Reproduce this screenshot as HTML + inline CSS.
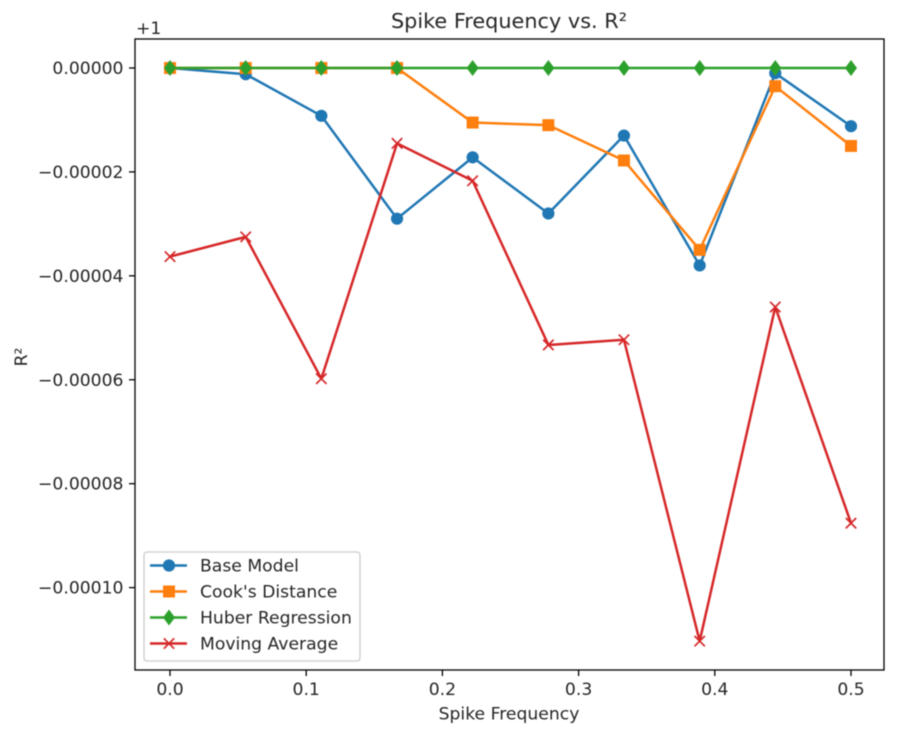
<!DOCTYPE html>
<html>
<head>
<meta charset="utf-8">
<title>Spike Frequency vs. R²</title>
<style>
html,body{margin:0;padding:0;background:#fff;}
#wrap{width:907px;height:741px;overflow:hidden;position:relative;}
svg{display:block;filter:blur(0.5px);}
text{font-family:"DejaVu Sans","Liberation Sans",sans-serif;fill:#262626;}
</style>
</head>
<body>
<div id="wrap">
<svg id="chart" width="907" height="741" viewBox="0 0 907 741" xmlns="http://www.w3.org/2000/svg"></svg>
</div>
<script>
const spikeFrequency = [0, 0.0556, 0.1111, 0.1667, 0.2222, 0.2778, 0.3333, 0.3889, 0.4444, 0.5];
const baseModel = [0, -0.12e-5, -0.92e-5, -2.9e-5, -1.72e-5, -2.8e-5, -1.3e-5, -3.8e-5, -0.1e-5, -1.12e-5];
const cooksDistance = [0, 0, 0, 0, -1.05e-5, -1.1e-5, -1.78e-5, -3.5e-5, -0.35e-5, -1.5e-5];
const huberRegression = [0, 0, 0, 0, 0, 0, 0, 0, 0, 0];
const movingAverage = [-3.63e-5, -3.25e-5, -5.98e-5, -1.45e-5, -2.17e-5, -5.33e-5, -5.23e-5, -11.03e-5, -4.6e-5, -8.76e-5];
const xTicks = [0, 0.1, 0.2, 0.3, 0.4, 0.5];
const xTickLabels = ["0.0", "0.1", "0.2", "0.3", "0.4", "0.5"];
const yTicks = [0, -2e-5, -4e-5, -6e-5, -8e-5, -10e-5];
const yTickLabels = ["0.00000", "\u22120.00002", "\u22120.00004", "\u22120.00006", "\u22120.00008", "\u22120.00010"];

const NS = "http://www.w3.org/2000/svg";
const svg = document.getElementById("chart");
const plot = {left:135, right:884, top:39, bottom:670};
const labelSize = 17.2;

function xScale(v){ return 170 + (v / 0.5) * 681; }
function yScale(v){ return 68 + (v / -1e-4) * 519.6; }

function mk(tag, attrs, parent){
  const el = document.createElementNS(NS, tag);
  for (const k in attrs) el.setAttribute(k, attrs[k]);
  (parent || svg).appendChild(el);
  return el;
}

function drawMarker(group, kind, x, y, color){
  let m;
  if (kind === "circle") {
    m = mk("circle", {cx:x, cy:y, r:6.1, fill:color}, group);
  } else if (kind === "square") {
    m = mk("rect", {x:x-6, y:y-6, width:12, height:12, fill:color}, group);
  } else if (kind === "diamond") {
    m = mk("polygon", {points:(x)+","+(y-8)+" "+(x+6)+","+y+" "+(x)+","+(y+8)+" "+(x-6)+","+y, fill:color}, group);
  } else {
    m = mk("path", {d:"M"+(x-5.2)+" "+(y-5.2)+"L"+(x+5.2)+" "+(y+5.2)+"M"+(x-5.2)+" "+(y+5.2)+"L"+(x+5.2)+" "+(y-5.2), stroke:color, "stroke-width":1.7, fill:"none"}, group);
  }
  return m;
}

// background
const bg = mk("rect", {x:plot.left, y:plot.top, width:plot.right-plot.left, height:plot.bottom-plot.top, fill:"#fff"});



// series
const seriesNames = ["Base Model", "Cook's Distance", "Huber Regression", "Moving Average"];
const seriesSlugs = ["base-model", "cooks-distance", "huber-regression", "moving-average"];
const seriesColors = ["#1f77b4", "#ff7f0e", "#2ca02c", "#d62728"];
const seriesMarkers = ["circle", "square", "diamond", "x"];
const seriesValues = [baseModel, cooksDistance, huberRegression, movingAverage];

seriesValues.forEach(function(vals, i){
  const g = mk("g", {});
  
  
  const pts = vals.map(function(v, j){ return xScale(spikeFrequency[j]) + "," + yScale(v); }).join(" ");
  const line = mk("polyline", {points:pts, fill:"none", stroke:seriesColors[i], "stroke-width":2.5, "stroke-linejoin":"round", "stroke-linecap":"square"}, g);
  
  
  vals.forEach(function(v, j){
    const m = drawMarker(g, seriesMarkers[i], xScale(spikeFrequency[j]), yScale(v), seriesColors[i]);
    
    
  });
});

// axes frame
const frame = mk("rect", {x:plot.left, y:plot.top, width:plot.right-plot.left, height:plot.bottom-plot.top, fill:"none", stroke:"#000", "stroke-width":1.3});



// x ticks
xTicks.forEach(function(v, i){
  const x = xScale(v);
  const t = mk("line", {x1:x, x2:x, y1:plot.bottom, y2:plot.bottom+6, stroke:"#000", "stroke-width":1.3});
  
  
  const l = mk("text", {x:x, y:695, "text-anchor":"middle", "font-size":labelSize});
  l.textContent = xTickLabels[i];
  
  
});

// y ticks
yTicks.forEach(function(v, i){
  const y = yScale(v);
  const t = mk("line", {x1:plot.left-6, x2:plot.left, y1:y, y2:y, stroke:"#000", "stroke-width":1.3});
  
  
  const l = mk("text", {x:123.5, y:y+6, "text-anchor":"end", "font-size":labelSize});
  l.textContent = yTickLabels[i];
  
  
});

// offset text
const off = mk("text", {x:136, y:34, "font-size":labelSize});
off.textContent = "+1";



// title and axis labels
const title = mk("text", {x:509, y:28, "text-anchor":"middle", "font-size":20.8});
title.textContent = "Spike Frequency vs. R\u00B2";



const xTitle = mk("text", {x:509, y:719.5, "text-anchor":"middle", "font-size":labelSize});
xTitle.textContent = "Spike Frequency";



const yTitle = mk("text", {x:0, y:0, "text-anchor":"middle", "font-size":labelSize, transform:"translate(27,357) rotate(-90)"});
yTitle.textContent = "R\u00B2";



// legend
const legend = mk("g", {});


const box = mk("rect", {x:144, y:552, width:216, height:109, rx:3, ry:3, fill:"#fff", "fill-opacity":0.8, stroke:"#ccc", "stroke-width":1.3}, legend);


seriesNames.forEach(function(name, i){
  const y = 565.5 + i * 26;
  const g = mk("g", {}, legend);
  
  
  mk("line", {x1:150, x2:187, y1:y, y2:y, stroke:seriesColors[i], "stroke-width":2.5}, g);
  drawMarker(g, seriesMarkers[i], 169, y, seriesColors[i]);
  const t = mk("text", {x:200, y:y+6, "font-size":labelSize}, g);
  t.textContent = name;
  
  
});
</script>
</body>
</html>
